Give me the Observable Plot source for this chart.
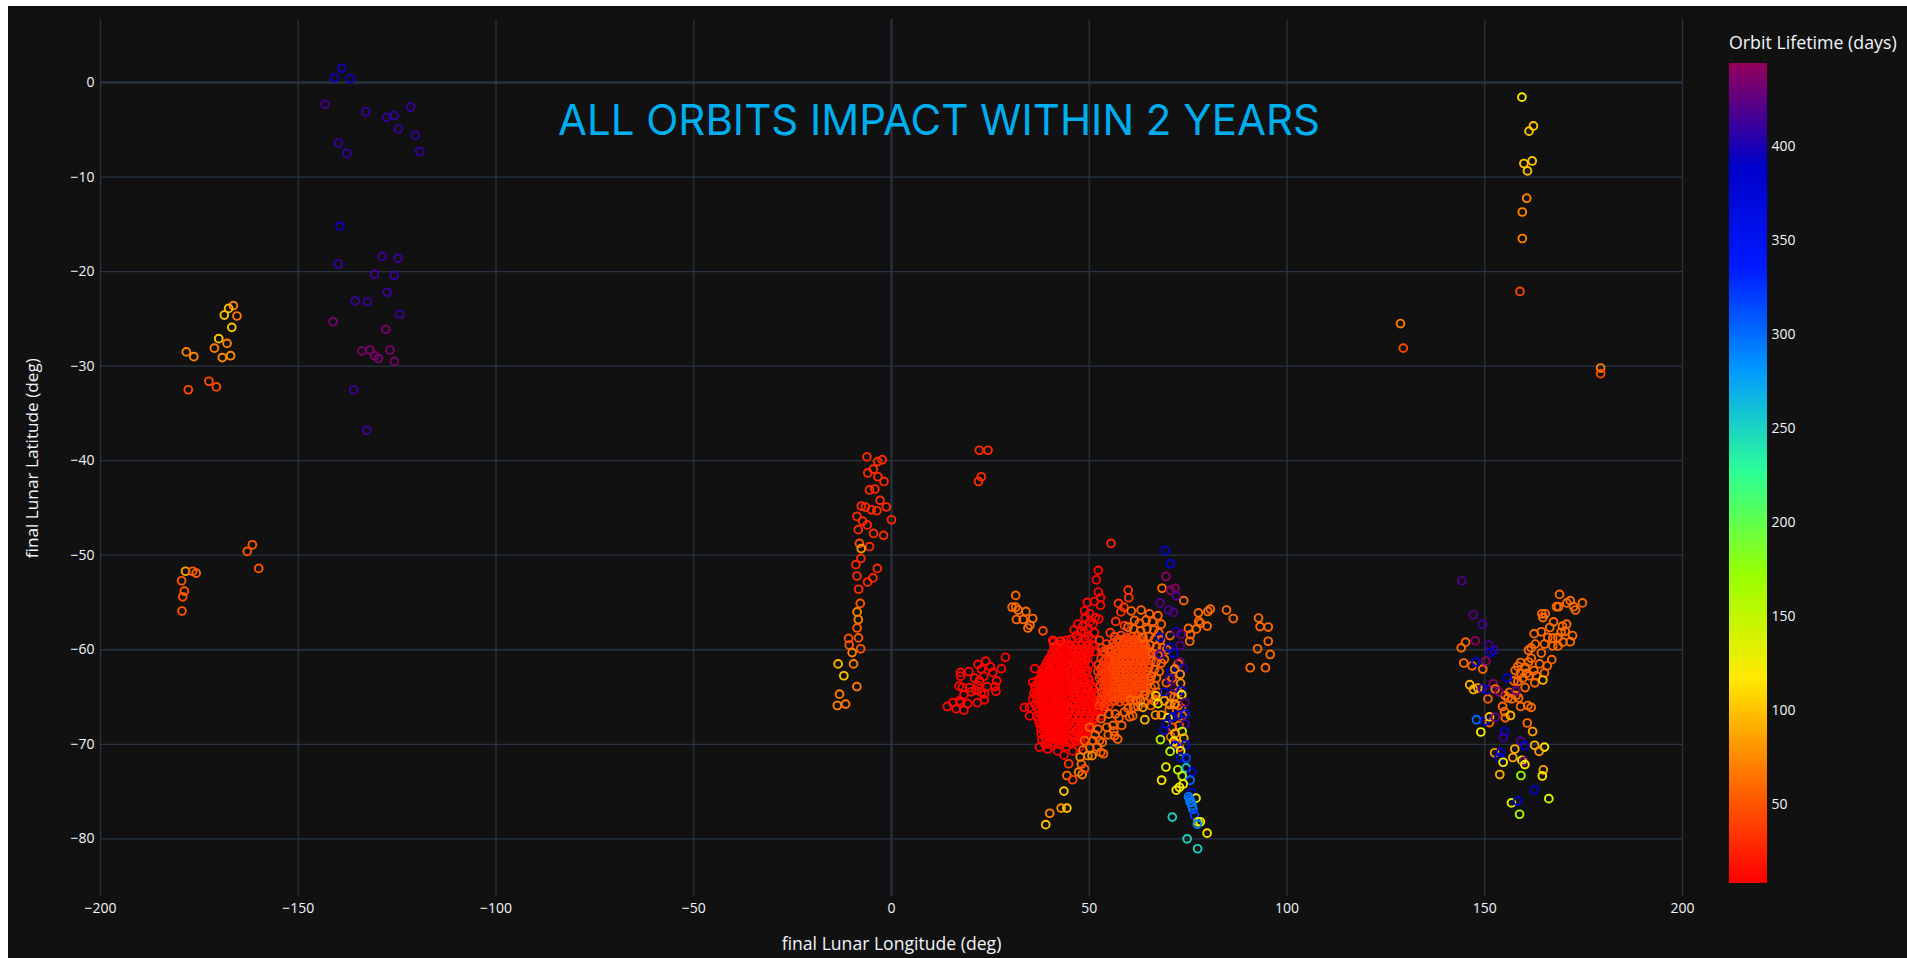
<!DOCTYPE html>
<html><head><meta charset="utf-8">
<style>
html,body{margin:0;padding:0;background:#fff;overflow:hidden}
#stage{position:absolute;left:8px;top:6px;width:1899px;height:952px;background:#111;overflow:hidden;font-family:"Open Sans",sans-serif}
#chart,#bar{position:absolute}
#chart{left:0;top:0}
#bar{left:1721px;top:57px}
#bartitle{position:absolute;left:1721px;top:24px;color:#f2f5fa;font-size:17.8px;white-space:nowrap}
</style>
<script src="https://cdn.jsdelivr.net/npm/d3@7"></script>
<script src="https://cdn.jsdelivr.net/npm/@observablehq/plot@0.6"></script>
</head><body><div id="stage"><div id="chart"></div><div id="bartitle"></div><div id="bar"></div></div>
<script>
const titleText = "ALL ORBITS IMPACT WITHIN 2 YEARS";
const xLabel = "final Lunar Longitude (deg)";
const yLabel = "final Lunar Latitude (deg)";
const barLabel = "Orbit Lifetime (days)";
const xTicks = [-200,-150,-100,-50,0,50,100,150,200];
const yTicks = [0,-10,-20,-30,-40,-50,-60,-70,-80];
const barTicks = [50,100,150,200,250,300,350,400];
const lifeStops = [8,62.5,117,171.5,226,280.5,335,389.5,444];
const lifeColors = ["rgb(255,0,0)","rgb(255,111,0)","rgb(255,234,0)","rgb(151,255,0)","rgb(44,255,150)","rgb(0,152,255)","rgb(0,25,255)","rgb(0,0,200)","rgb(150,0,90)"];

// dense clusters: [lon, lat], one lifetime per cluster
const redWest = [[41,-59.2],[42.9,-59.1],[44.2,-59],[41.1,-59.7],[42.4,-59.8],[43.8,-59.6],[40.6,-60.3],[42,-60.4],[43.3,-60.2],[44.6,-60.3],[39.9,-60.9],[41.4,-60.8],[42.8,-61],[44.1,-60.8],[39.1,-61.5],[40.5,-61.3],[41.9,-61.5],[43.2,-61.4],[44.6,-61.5],[36.2,-62],[38.4,-62],[39.8,-62.1],[41.2,-61.9],[42.5,-62.1],[43.9,-62],[38,-62.6],[39.2,-62.5],[40.6,-62.6],[42,-62.4],[43.3,-62.6],[44.6,-62.5],[37.4,-63.1],[38.7,-63],[40,-63.1],[41.3,-63],[42.7,-63.2],[44,-63],[35.7,-63.45],[36.9,-63.6],[38.2,-63.5],[39.5,-63.6],[40.8,-63.5],[42.2,-63.6],[43.5,-63.5],[44.8,-63.6],[36.4,-64.1],[37.7,-64],[39,-64.1],[40.3,-64],[41.6,-64.2],[42.9,-64],[44.2,-64.1],[36,-64.6],[37.2,-64.7],[38.5,-64.6],[39.8,-64.7],[41.1,-64.6],[42.4,-64.7],[43.7,-64.6],[45,-64.7],[35.7,-65.2],[36.9,-65.2],[38.1,-65.3],[39.4,-65.2],[40.7,-65.3],[42,-65.2],[43.3,-65.3],[44.6,-65.2],[36.3,-65.8],[37.6,-65.8],[38.9,-65.9],[40.2,-65.8],[41.5,-65.9],[42.8,-65.8],[44.1,-65.9],[33.6,-66.1],[34.9,-66.1],[37.2,-66.5],[38.4,-66.4],[39.7,-66.5],[41,-66.4],[42.3,-66.5],[43.6,-66.4],[44.9,-66.5],[34.9,-67],[36.8,-67],[38,-67.1],[39.3,-67],[40.6,-67.1],[41.9,-67],[43.2,-67.1],[44.5,-67],[37.4,-67.8],[38.6,-67.6],[39.9,-67.7],[41.2,-67.6],[42.5,-67.7],[43.8,-67.6],[37.8,-68.4],[39,-68.2],[40.3,-68.3],[41.6,-68.2],[42.9,-68.3],[44.2,-68.2],[37.85,-68.9],[39.4,-68.9],[40.7,-68.8],[42,-68.9],[43.3,-68.8],[44.6,-68.9],[38,-69.5],[39.2,-69.5],[40.5,-69.4],[41.8,-69.5],[43.1,-69.4],[44.4,-69.5],[37.4,-70.3],[38.8,-70],[39.5,-70.5],[40.6,-70.1],[42,-70.7],[42.4,-70],[43.6,-71.15],[44.2,-70.2]];
const redWestInner = [[41.9,-59.45],[43.2,-59.4],[44.8,-59.5],[41.3,-60.05],[42.8,-60.1],[44.3,-60],[45.5,-60],[40.5,-60.6],[41.7,-60.6],[43,-60.65],[44.9,-60.55],[39.5,-61.2],[41,-61.15],[42.3,-61.2],[43.7,-61.2],[38.9,-61.8],[40.2,-61.7],[41.6,-61.75],[42.9,-61.8],[44.3,-61.75],[38.6,-62.3],[40,-62.35],[41.4,-62.25],[42.7,-62.35],[44,-62.3],[37.8,-62.85],[39.5,-62.8],[40.7,-62.85],[42.1,-62.85],[43.6,-62.8],[44.9,-62.9],[37.6,-63.3],[39,-63.3],[40.3,-63.3],[41.8,-63.25],[43,-63.35],[44.4,-63.3],[36.2,-63.85],[37.3,-63.85],[38.6,-63.8],[39.9,-63.85],[41.2,-63.8],[42.5,-63.85],[43.8,-63.8],[36.8,-64.4],[38.1,-64.35],[39.4,-64.4],[40.7,-64.35],[42,-64.45],[43.3,-64.35],[44.6,-64.4],[36.5,-64.95],[37.8,-64.95],[39.1,-64.9],[40.4,-65],[41.7,-64.95],[43,-65],[44.3,-64.95],[37.3,-65.5],[38.5,-65.6],[39.8,-65.5],[41.1,-65.6],[42.4,-65.5],[43.7,-65.6],[36.9,-66.15],[38.2,-66.15],[39.5,-66.2],[40.8,-66.1],[42.1,-66.2],[43.4,-66.15],[44.7,-66.1],[37.6,-66.75],[38.9,-66.75],[40.2,-66.8],[41.5,-66.7],[42.8,-66.8],[44.1,-66.7],[37.1,-67.35],[38.4,-67.35],[39.6,-67.4],[41,-67.3],[42.3,-67.4],[43.5,-67.3],[44.8,-67.4],[38,-67.95],[39.3,-67.95],[40.6,-68],[41.9,-67.9],[43.2,-68],[44.5,-67.9],[38.6,-68.6],[39.9,-68.55],[41.2,-68.55],[42.5,-68.6],[43.8,-68.5],[38.8,-69.2],[40,-69.15],[41.3,-69.2],[42.6,-69.1],[43.9,-69.2],[39.6,-69.8],[41,-69.8],[42.2,-69.75],[43.5,-69.8],[44.7,-69.8]];
const redEast = [[52.3,-51.6],[51.8,-52.6],[52.3,-53.9],[52.85,-54.5],[52.85,-55.3],[51.3,-54.9],[49.5,-55],[48.8,-55.9],[50.1,-56.2],[52.4,-56.75],[50.9,-57.3],[47.1,-57.3],[48.4,-57.5],[49.65,-57.8],[48.8,-58.2],[51.3,-58.2],[45.4,-58.9],[46.7,-58.5],[45.2,-59.5],[46.6,-59.6],[48,-59.4],[49.4,-59.6],[50.8,-59.5],[45.8,-60.2],[47.2,-60.3],[48.6,-60.1],[50,-60.3],[51.2,-60.2],[45.4,-60.9],[46.8,-60.8],[48.2,-61],[49.6,-60.9],[45.9,-61.5],[47.3,-61.6],[48.7,-61.4],[50,-61.6],[45.3,-62.2],[46.7,-62.1],[48.1,-62.3],[49.5,-62.2],[45.6,-62.9],[47,-62.9],[48.4,-62.8],[49.7,-63],[46,-63.5],[47.4,-63.6],[48.8,-63.5],[50.1,-63.6],[45.5,-64.2],[46.9,-64.1],[48.3,-64.3],[49.7,-64.2],[51,-64.2],[46.2,-64.9],[47.6,-64.8],[49,-64.9],[50.4,-64.8],[51.8,-64.9],[45.8,-65.5],[47.2,-65.6],[48.6,-65.5],[50,-65.6],[51.4,-65.5],[52.8,-65.6],[45.4,-66.2],[46.8,-66.2],[48.2,-66.3],[49.6,-66.2],[51,-66.3],[52.4,-66.2],[53.8,-66.3],[46,-66.9],[47.4,-67],[48.8,-66.9],[50.2,-67],[51.6,-66.9],[53,-67],[45.2,-67.6],[46.6,-67.7],[48,-67.6],[49.4,-67.7],[50.8,-67.6],[45.6,-68.3],[47,-68.4],[48.4,-68.3],[49.8,-68.3],[45.9,-69],[47.3,-69.1],[48.7,-69],[45.5,-69.7],[46.8,-69.7],[45.85,-70.7],[47.5,-70.3]];
const redEastInner = [[49,-56.6],[50.2,-57],[51.5,-56.6],[46.2,-57.9],[47.9,-58],[49.8,-58.6],[50.6,-58.9],[47.3,-58.8],[48.8,-58.9],[46,-59.9],[47.4,-59.95],[48.8,-59.85],[50.2,-59.9],[46.5,-60.55],[47.9,-60.6],[49.3,-60.5],[46.2,-61.2],[47.6,-61.25],[49,-61.1],[46,-61.85],[47.5,-61.9],[48.9,-61.85],[46.3,-62.55],[47.7,-62.55],[49.1,-62.5],[45.9,-63.2],[47.2,-63.25],[48.6,-63.15],[50,-63.25],[46.6,-63.85],[48,-63.85],[49.4,-63.9],[50.8,-63.9],[46.3,-64.5],[47.7,-64.55],[49.1,-64.6],[50.5,-64.5],[46.7,-65.2],[48.1,-65.2],[49.5,-65.25],[50.9,-65.2],[52.2,-65.3],[46.3,-65.85],[47.7,-65.9],[49.1,-65.85],[50.5,-65.95],[51.9,-65.85],[53.2,-65.9],[46.5,-66.55],[47.9,-66.6],[49.3,-66.55],[50.7,-66.65],[52.1,-66.55],[45.9,-67.25],[47.3,-67.3],[48.7,-67.25],[50.1,-67.3],[51.5,-67.25],[46.3,-68],[47.7,-68],[49.1,-68],[50.4,-68.05],[46.6,-68.65],[48,-68.7],[49.2,-68.7],[46.4,-69.35],[47.8,-69.4],[49.3,-69.35]];
const orangeRed = [[59.85,-53.7],[60,-54.5],[57.4,-55.1],[58.75,-55.5],[58,-56],[56.7,-57],[58.9,-57.45],[52.6,-59],[53.2,-59.8],[54.4,-59.4],[55.3,-58.2],[54,-60.4],[55.2,-60.2],[53,-60.9],[54.2,-61],[55.4,-60.9],[52.3,-61.6],[53.5,-61.7],[54.7,-61.6],[55.8,-61.5],[52.2,-62.3],[53.4,-62.4],[54.6,-62.3],[55.8,-62.2],[52.6,-63],[53.8,-63.1],[55,-63],[56,-63],[52.8,-63.8],[54,-63.7],[55.2,-63.8],[53.2,-64.5],[54.4,-64.5],[55.6,-64.4],[53,-65.2],[54.2,-65.2],[55.4,-65.1],[52.6,-65.9],[53.8,-66],[55,-65.9],[53.5,-60.2],[53.6,-61.25],[54.9,-61.3],[52.9,-62],[54.1,-62],[55.2,-61.9],[53,-62.7],[54.2,-62.7],[55.4,-62.65],[53.3,-63.4],[54.5,-63.4],[55.6,-63.4],[53.6,-64.1],[54.8,-64.15],[56,-64.1],[53.6,-64.85],[54.8,-64.85],[56,-64.9],[53.2,-65.55],[54.4,-65.6],[55.6,-65.5]];
const orangeCore = [[56.4,-58.6],[58,-58.5],[59.4,-58.7],[60.8,-58.6],[62.2,-58.5],[56,-59.3],[57.3,-59.2],[58.6,-59.3],[59.9,-59.2],[61.2,-59.3],[62.5,-59.2],[63.8,-59.3],[55.5,-59.9],[56.8,-60],[58.1,-59.9],[59.4,-60],[60.7,-59.9],[62,-60],[63.3,-59.9],[64.6,-60],[56,-60.6],[57.2,-60.5],[58.5,-60.6],[59.8,-60.5],[61.1,-60.6],[62.4,-60.5],[63.7,-60.6],[65,-60.5],[56.5,-61.2],[57.8,-61.3],[59.1,-61.2],[60.4,-61.3],[61.7,-61.2],[63,-61.3],[64.3,-61.2],[65.6,-61.2],[56,-61.9],[57.3,-61.9],[58.6,-62],[59.9,-61.9],[61.2,-62],[62.5,-61.9],[63.8,-62],[65.1,-61.9],[56.6,-62.6],[57.9,-62.7],[59.2,-62.6],[60.5,-62.7],[61.8,-62.6],[63.1,-62.7],[64.4,-62.6],[56.2,-63.3],[57.5,-63.4],[58.8,-63.3],[60.1,-63.4],[61.4,-63.3],[62.7,-63.4],[64,-63.3],[65.3,-63.3],[56.6,-64],[57.9,-64.1],[59.2,-64],[60.5,-64.1],[61.8,-64],[63.1,-64.1],[64.4,-64],[56,-64.7],[57.3,-64.7],[58.6,-64.8],[59.9,-64.7],[61.2,-64.8],[62.5,-64.7],[56.4,-65.4],[57.7,-65.5],[59,-65.4]];
const orangeCoreInner = [[54.7,-60],[56.5,-59.6],[58,-59.6],[59.3,-59.6],[60.5,-59.6],[61.8,-59.6],[63,-59.6],[64.2,-59.6],[57.3,-58.9],[58.7,-58.9],[60.1,-58.9],[61.5,-58.9],[62.9,-58.9],[55.4,-60.25],[57.5,-60.25],[58.8,-60.3],[60.1,-60.25],[61.4,-60.3],[62.7,-60.25],[64,-60.3],[65.3,-60.2],[56.6,-60.9],[57.9,-60.9],[59.2,-60.9],[60.5,-60.95],[61.8,-60.85],[63.1,-60.95],[64.4,-60.9],[57.2,-61.55],[58.5,-61.6],[59.8,-61.55],[61.1,-61.6],[62.4,-61.55],[63.7,-61.6],[65,-61.55],[56.7,-62.25],[58,-62.3],[59.3,-62.25],[60.6,-62.3],[61.9,-62.25],[63.2,-62.3],[64.5,-62.25],[57.2,-62.95],[58.5,-63],[59.8,-62.95],[61.1,-63],[62.4,-62.95],[63.7,-63],[65,-62.95],[56.9,-63.65],[58.2,-63.7],[59.5,-63.65],[60.8,-63.7],[62.1,-63.65],[63.4,-63.7],[64.7,-63.65],[57.2,-64.35],[58.5,-64.4],[59.8,-64.35],[61.1,-64.4],[62.4,-64.35],[63.7,-64.4],[57,-65.1],[58.3,-65.1],[59.6,-65.05],[60.8,-65.05]];
const orangeOuter = [[60.6,-55.9],[63.1,-55.8],[65.2,-56.2],[61.45,-56.9],[64.4,-56.85],[67.35,-56.4],[68.2,-57.3],[62.7,-57.2],[66,-57],[59.8,-57.6],[61.2,-57.8],[63,-58],[64.6,-57.8],[66.3,-57.9],[67.6,-58.2],[63.6,-58.7],[65.1,-58.6],[66.5,-58.9],[68,-59],[65.4,-59.5],[67,-59.7],[68.5,-59.8],[66,-60.4],[67.4,-60.6],[66.9,-61.3],[68.2,-61.4],[66.5,-62.1],[67.7,-62.3],[65.7,-62.8],[67,-63],[66.6,-63.8],[65.6,-64],[67.2,-64.5],[64,-64.8],[65.4,-65],[66.4,-65.4],[64.1,-65.6],[60.4,-65.3],[61.8,-65.4],[63,-65.3],[65.6,-65.9],[62.3,-66],[59.8,-66.2],[61.2,-66.1],[58.9,-66.6],[60.2,-67.1],[61,-67],[57.2,-69.45],[56.4,-69.1],[56,-68],[56.2,-68.6],[54.45,-68.2],[52.2,-68.4],[50.1,-68.2],[53,-67.3],[48.8,-69.6],[50.9,-69.6],[52.6,-69.6],[53.3,-69.8],[48.4,-70.6],[50.1,-70.4],[52,-70.3],[52.9,-70.85],[53.6,-71],[57.5,-67.2],[58.2,-68],[55,-66.8],[56.6,-66.8],[54.8,-69],[51.5,-69],[72.5,-61.5],[71,-63],[72.5,-64.5],[70.5,-64.9],[71.5,-65],[72.5,-65.9],[73.3,-66.2],[70.2,-66.4],[71,-68.2],[72.7,-68],[73.5,-67],[70.6,-69.2],[72.2,-69.9],[72.8,-70.3],[69.5,-63.5],[69,-61],[69.6,-60],[70.4,-58.5]];
const lonBand = [[-6.2,-39.6],[-2.35,-39.9],[-3.5,-40.1],[-4.6,-40.9],[-6,-41.3],[-3.45,-41.7],[-1.9,-42.2],[-5.55,-43.1],[-4.2,-43],[-2.9,-44.2],[-1.3,-44.9],[-7.65,-44.8],[-6.6,-44.9],[-5.1,-45.2],[-3.7,-45.3],[0,-46.25],[-8.75,-45.9],[-7.3,-46.4],[-6.15,-46.8],[-8.4,-47.3],[-4.55,-47.7],[-2,-47.9],[-5.55,-49.1],[-7.75,-50.35],[-9,-51],[-3.6,-51.4],[-4.7,-52.4],[-8.75,-52.2],[-6.05,-52.85],[-8.3,-53.6],[22.2,-38.9],[24.4,-38.9],[22,-42.2],[22.7,-41.7]];
const band17 = [[28.8,-60.8],[27.8,-62],[21.85,-61.55],[23.8,-61.2],[22.7,-62.05],[25,-61.8],[25.6,-62.4],[19.55,-62.3],[17.4,-62.4],[17.45,-62.8],[21,-63],[23.35,-62.8],[26.6,-63.3],[17.1,-63.85],[17.95,-64],[19.7,-64],[22.25,-63.3],[21.85,-63.8],[24.2,-63.9],[26.2,-63.9],[26.4,-64.4],[20.15,-64.45],[21.4,-64.3],[22.7,-64.5],[23.5,-64.7],[18.3,-64.75],[21.7,-65.6],[23.5,-65.3],[19.3,-65.7],[17.2,-65.4],[15.5,-65.6],[14.1,-66],[16.35,-66.25],[18.3,-66.4],[17.45,-65.6]];
const band60 = [[31.4,-54.25],[30.5,-55.5],[31.4,-55.5],[32,-55.8],[34,-55.95],[31.6,-56.8],[33.3,-56.8],[35.7,-56.7],[35,-57.4],[34.5,-57.7],[77.6,-56.1],[80.6,-55.7],[80,-55.95],[84.7,-55.8],[86.4,-56.7],[92.8,-56.65],[93.2,-57.55],[95.25,-57.6],[95.25,-59.1],[92.55,-59.9],[95.75,-60.5],[90.7,-61.9],[94.55,-61.9],[77.7,-57],[78.1,-57.2],[79.8,-57.5],[77.1,-57.8],[75.1,-57.75],[75.6,-58.4],[75.4,-59.1],[68.4,-53.5],[73.9,-54.8]];
const farEastBand = [[168.9,-54.15],[171.6,-54.8],[170.75,-55.05],[174.7,-55.05],[168.15,-55.45],[168.65,-55.45],[172.45,-55.45],[172.95,-55.8],[165.3,-56.2],[164.45,-56.2],[164.7,-56.6],[167.4,-57.05],[166.45,-57.65],[170.7,-57.3],[169.65,-57.5],[170.35,-58.05],[162.5,-58.3],[164.3,-58.1],[169.3,-58.15],[172.2,-58.5],[165.95,-58.7],[167.2,-58.75],[168.5,-58.7],[171.6,-59.15],[162.75,-59.4],[165.1,-59.4],[167.2,-59.6],[168.5,-59.6],[169.75,-59.2],[161.75,-59.8],[161.05,-60.05],[164.3,-60.35],[166.95,-61.05],[161.75,-60.9],[161.05,-61.3],[159.05,-61.35],[163.85,-61.5],[165.8,-61.7],[158.4,-61.75],[160.2,-61.85],[157.7,-62.2],[162.4,-62.2],[165.1,-62.45],[159.05,-62.5],[160.5,-62.5],[163,-62.75],[159.65,-63],[157.4,-63.3],[158.35,-63.35],[161.3,-62.75],[162.65,-63.5],[160.2,-64],[156.25,-64.5],[155.15,-64.85],[155.85,-65.1],[156.85,-65.2],[158.55,-65.1],[157.95,-64.85],[144.05,-59.8],[145.15,-59.2],[144.7,-61.4],[146.8,-61.7],[149.5,-62.05],[150.8,-65.2],[154.5,-66],[155,-66.55],[155.2,-67.2],[159.05,-66],[160.9,-65.9],[161.75,-66.1],[160.75,-67.75],[151.2,-67.7]];

// scattered points: [lon, lat, lifetime]
const southTail = [[44.8,-72.06,35],[44.35,-73.3,60],[45.8,-73.75,40],[47.3,-72.95,70],[48.2,-73.2,70],[48.8,-72.6,40],[48,-72.1,60],[47.7,-71.35,70],[49.65,-71.2,70],[50.7,-71.2,75],[43.6,-74.95,100],[42.9,-76.75,75],[44.35,-76.75,100],[40,-77.3,70],[39,-78.5,100]];
const upperWest = [[-139,1.5,395],[-140.8,.5,395],[-136.8,.4,395],[-143.2,-2.3,415],[-132.9,-3.1,410],[-127.7,-3.7,410],[-125.7,-3.5,410],[-121.6,-2.6,410],[-124.7,-4.9,410],[-120.4,-5.6,410],[-119.3,-7.3,410],[-139.8,-6.4,410],[-137.7,-7.5,410],[-139.5,-15.2,395],[-139.9,-19.2,410],[-128.8,-18.4,412],[-124.8,-18.6,412],[-130.7,-20.3,412],[-125.7,-20.4,412],[-127.5,-22.2,412],[-135.6,-23.1,412],[-132.5,-23.2,412],[-124.3,-24.5,412],[-141.2,-25.3,435],[-127.9,-26.1,435],[-133.9,-28.4,435],[-131.9,-28.3,435],[-130.7,-28.9,435],[-129.7,-29.2,435],[-126.8,-28.3,435],[-125.7,-29.5,435],[-136,-32.5,412],[-132.7,-36.8,412]];
const farWest = [[-166.4,-23.6,70],[-167.6,-23.9,95],[-168.7,-24.6,100],[-165.5,-24.7,65],[-166.8,-25.9,100],[-170.1,-27.1,100],[-168,-27.6,70],[-171.2,-28.1,70],[-178.3,-28.5,70],[-176.4,-29,75],[-167.1,-28.9,75],[-169.2,-29.1,75],[-172.6,-31.6,45],[-170.7,-32.2,45],[-177.8,-32.5,45],[-178.5,-51.7,85],[-176.7,-51.7,50],[-175.8,-51.9,55],[-179.5,-52.7,50],[-178.8,-53.8,50],[-179.2,-54.4,50],[-179.4,-55.9,50],[-161.6,-48.9,50],[-162.9,-49.6,50],[-160,-51.4,50]];
const upperEast = [[159.4,-1.55,120],[162.3,-4.6,100],[161.2,-5.15,100],[162,-8.3,100],[159.9,-8.57,100],[160.8,-9.35,100],[160.6,-12.24,70],[159.5,-13.7,70],[159.5,-16.5,70],[158.9,-22.1,42],[128.7,-25.5,70],[129.4,-28.1,45],[179.3,-30.2,70],[179.3,-30.8,45]];
const nearSide = [[-8.1,-48.75,45],[-7.65,-49.3,80],[-7.9,-55.1,50],[-8.7,-56,70],[-8.4,-56.8,70],[-8.7,-57.7,50],[-10.85,-58.8,45],[-8.35,-58.75,50],[-10.7,-59.5,50],[-7.8,-59.9,50],[-9.95,-60.3,70],[-13.5,-61.5,95],[-9.6,-61.5,70],[-12.05,-62.75,100],[-8.75,-63.9,65],[-13.15,-64.7,70],[-13.7,-65.9,70],[-11.6,-65.75,65],[38.3,-58,45],[40.8,-59,20],[42.7,-59.1,20],[63.55,-66.1,85],[64.05,-67.4,95],[55.5,-48.75,25]];
const tail = [[69.2,-49.5,385],[70.5,-50.9,380],[69.4,-52.25,440],[70.55,-53.7,440],[71.7,-53.5,440],[72,-54.3,420],[67.9,-55.05,420],[70.1,-55.8,415],[71.3,-56.05,420],[72,-58.1,400],[73.25,-58.35,430],[73,-59.55,420],[67.9,-58.65,390],[70.2,-59.75,390],[67.85,-60.5,415],[71.3,-60.35,380],[72.9,-61.3,430],[73.8,-62,400],[70.7,-62.3,390],[71.6,-62.05,70],[70.3,-63.1,415],[73,-62.6,75],[71.7,-64,420],[73.1,-63.55,75],[73.25,-64.3,385],[73.4,-64.75,115],[69,-64.5,385],[66.85,-64.85,100],[67.4,-65.7,125],[69,-65.4,85],[74.2,-65.6,425],[70.3,-65.8,75],[71.6,-65.75,80],[66.75,-66.9,75],[68.2,-66.9,75],[69.9,-67.2,115],[71.1,-67.1,385],[72.4,-66.9,385],[74.25,-66.75,350],[74.25,-67.85,415],[69.45,-67.85,385],[68.9,-68.55,385],[73.5,-68.65,150],[71.7,-68.85,90],[68,-69.5,155],[71.4,-69.7,115],[73.9,-69.35,90],[71.7,-70.15,380],[74.35,-70.05,360],[70.45,-70.75,155],[73.1,-70.7,120],[73.1,-71.4,380],[74.5,-71.45,320],[69.4,-72.4,125],[72.4,-72.7,150],[74.5,-72.5,260],[75.95,-72.9,380],[73.5,-73.35,150],[75.5,-73.8,300],[68.3,-73.8,115],[73.75,-74.2,115],[72.8,-74.55,125],[72,-74.85,120],[75.8,-75.1,385],[77,-75.7,130],[75.1,-75.55,295],[75.4,-75.8,295],[75.8,-76.15,295],[76,-76.5,295],[76.2,-76.85,295],[75.5,-76.1,295],[76.6,-77.5,320],[71,-77.7,250],[78.1,-78.2,125],[77.5,-78.2,130],[77.3,-78.45,290],[79.8,-79.4,115],[74.75,-80,250],[77.4,-81.05,250]];
const farEast = [[144.2,-52.7,420],[147.1,-56.3,420],[149.4,-57.3,415],[147.6,-59.05,440],[151.05,-59.5,415],[152.4,-60.05,410],[151.6,-60.3,385],[150.3,-61.2,440],[147.75,-61.3,385],[155.7,-63,385],[146.2,-63.7,90],[147.15,-64.2,90],[148.25,-64.05,90],[149.35,-64.1,415],[150.6,-64.25,390],[152.15,-63.6,440],[152.65,-64.15,60],[153.6,-64.45,440],[157.9,-64.35,430],[156.5,-66.95,95],[162.1,-68.65,85],[164.7,-63.2,90],[147.9,-67.4,300],[149,-68.7,120],[150.1,-67.55,380],[151.2,-67.1,100],[152.65,-67.15,425],[155,-68.65,385],[154.65,-69.3,410],[159.05,-69.65,420],[160.05,-70.15,385],[162.6,-70.1,90],[165.1,-70.3,120],[163.75,-70.75,85],[157.6,-70.5,90],[157.1,-71.4,85],[152.5,-70.9,80],[154,-70.85,385],[153.65,-71.4,385],[154.65,-71.9,120],[159.4,-71.7,125],[159.9,-71.8,435],[160.15,-72.15,125],[153.8,-73.2,90],[159.15,-73.3,170],[164.8,-72.7,85],[164.55,-73.35,115],[162.6,-74.85,385],[166.2,-75.75,135],[156.75,-76.2,135],[158.3,-76,385],[158.8,-77.4,160]];

const withLife = (pts, life) => pts.map(([lon, lat]) => [lon, lat, life]);
const points = [
  ...withLife(redWest, 8), ...withLife(redWestInner, 8), ...withLife(redEast, 11), ...withLife(redEastInner, 11), ...withLife(band17, 11),
  ...withLife(lonBand, 28), ...withLife(orangeRed, 34), ...withLife(orangeCore, 41), ...withLife(orangeCoreInner, 41),
  ...withLife(orangeOuter, 56), ...withLife(band60, 60), ...withLife(farEastBand, 60),
  ...southTail, ...nearSide, ...upperWest, ...farWest, ...upperEast, ...tail, ...farEast
];
const colorScale = {type:"linear", domain: lifeStops, range: lifeColors, clamp:true};
const tickColor = "#f2f5fa", gridColor = "#283442";

document.getElementById("chart").append(Plot.plot({
  width:1899, height:952, marginLeft:92, marginRight:225, marginTop:13.3, marginBottom:62,
  style:{background:"#111111", color:tickColor, fontFamily:"Open Sans", fontSize:"14px"},
  x:{domain:[-200,200]},
  y:{domain:[-86.1,6.63]},
  color:colorScale,
  marks:[
    Plot.gridX(xTicks,{stroke:gridColor,strokeOpacity:1,strokeWidth:1.3}),
    Plot.gridY(yTicks,{stroke:gridColor,strokeOpacity:1,strokeWidth:1.3}),
    Plot.ruleX([0],{stroke:gridColor,strokeWidth:2}),
    Plot.ruleY([0],{stroke:gridColor,strokeWidth:2}),
    Plot.axisX({ticks:xTicks,tickSize:0,tickPadding:7,label:null,fill:tickColor}),
    Plot.axisY({ticks:yTicks,tickSize:0,tickPadding:6,label:null,fill:tickColor}),
    Plot.text([xLabel],{frameAnchor:"bottom",dy:53,text:d=>d,fill:tickColor,fontSize:17.6,fontFamily:"Open Sans",textAnchor:"middle"}),
    Plot.text([yLabel],{frameAnchor:"left",dx:-68.4,rotate:-90,text:d=>d,fill:tickColor,fontSize:17.2,fontFamily:"Open Sans",textAnchor:"middle"}),
    Plot.dot(points,{x:d=>d[0],y:d=>d[1],stroke:d=>d[2],r:3.9,strokeWidth:1.9,fill:"none"}),
    Plot.text([titleText],{x:12,y:-4.1,text:d=>d,fill:"#00aeef",fontSize:42,fontFamily:"Inter",textAnchor:"middle"})
  ]
}));

document.getElementById("bartitle").textContent = barLabel;
const barSteps = d3.range(lifeStops[0], lifeStops[lifeStops.length-1], 1);
document.getElementById("bar").append(Plot.plot({
  width:120, height:820, marginLeft:0, marginRight:82, marginTop:0, marginBottom:0,
  style:{background:"transparent", color:tickColor, fontFamily:"Open Sans", fontSize:"14px"},
  x:{domain:[0,1],axis:null},
  y:{domain:[lifeStops[0],lifeStops[lifeStops.length-1]]},
  color:colorScale,
  marks:[
    Plot.rect(barSteps,{x1:0,x2:1,y1:d=>d,y2:d=>d+1,fill:d=>d,inset:0,insetTop:-0.5,shapeRendering:"crispEdges"}),
    Plot.axisY({anchor:"right",ticks:barTicks,tickSize:0,tickPadding:4,label:null,fill:tickColor})
  ]
}));
</script></body></html>
